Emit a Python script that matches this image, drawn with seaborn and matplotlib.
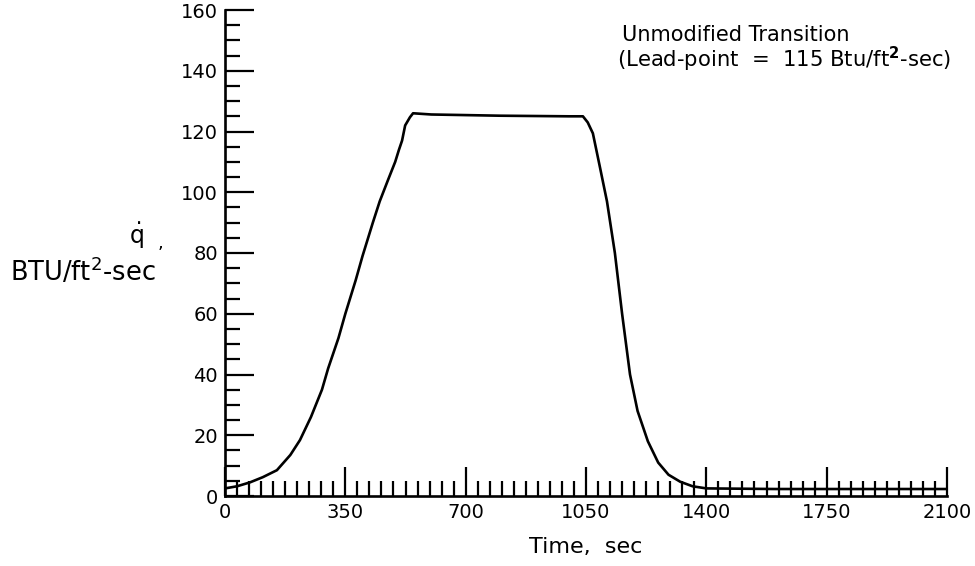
import matplotlib
matplotlib.use("Agg")
import matplotlib.pyplot as plt
from matplotlib.ticker import MultipleLocator
import seaborn as sns
import pandas as pd

# Data
time_sec = [0, 35, 73, 110, 151, 190, 218, 250, 282, 300, 330, 350, 380, 400, 430,
            450, 474, 495, 506, 515, 524, 538, 547, 600, 700, 800, 900, 1000, 1041,
            1055, 1070, 1091, 1111, 1134, 1155, 1178, 1200, 1230, 1260, 1290, 1324,
            1360, 1400, 1600, 1800, 2000, 2100]
heat_rate = [2.5, 3.2, 4.5, 6.2, 8.5, 13.5, 18.4, 26, 35, 42, 52, 60, 71, 79, 90,
             97, 104, 110, 114, 117, 122, 124.7, 126, 125.6, 125.4, 125.2, 125.1, 125.0, 125.0,
             123, 119.4, 108, 97, 80, 60, 40, 28, 18, 11, 7, 4.7,
             3.2, 2.5, 2.3, 2.3, 2.3, 2.3]
x_ticks = [0, 350, 700, 1050, 1400, 1750, 2100]
y_ticks = [0, 20, 40, 60, 80, 100, 120, 140, 160]

sns.set_theme(style="white")
plt.rcParams["font.family"] = ["DejaVu Sans"]
plt.rcParams["mathtext.fontset"] = "dejavusans"
plt.rcParams["text.color"] = "black"
plt.rcParams["axes.labelcolor"] = "black"

df = pd.DataFrame({"t": time_sec, "q": heat_rate})

fig = plt.figure(figsize=(9.75, 5.66), dpi=100)
ax = fig.add_axes([225 / 975, 1 - 496 / 566, (947 - 225) / 975, (496 - 10) / 566])
sns.lineplot(data=df, x="t", y="q", ax=ax, color="black", linewidth=1.9)

ax.set_xlim(0, 2100)
ax.set_ylim(0, 160)
ax.set_xticks(x_ticks)
ax.set_yticks(y_ticks)
ax.xaxis.set_minor_locator(MultipleLocator(35))
ax.yaxis.set_minor_locator(MultipleLocator(5))
for s in ["top", "right"]:
    ax.spines[s].set_visible(False)
for s in ["left", "bottom"]:
    ax.spines[s].set_linewidth(1.9)
    ax.spines[s].set_color("black")
ax.tick_params(axis="both", which="both", bottom=True, left=True, top=False, right=False)
ax.tick_params(axis="both", which="major", direction="in", length=21, width=1.6,
               color="black", labelsize=14, labelcolor="black")
ax.tick_params(axis="both", which="minor", direction="in", length=10.5, width=1.6,
               color="black")
ax.tick_params(axis="x", which="both", pad=5)
ax.tick_params(axis="y", which="both", pad=5)
ax.set_xlabel("Time,  sec", fontsize=16, labelpad=11, color="black")
ax.set_ylabel("")
ax.grid(False)

fig.text(136 / 975, 1 - 236 / 566, r"$\dot{\mathrm{q}}$", fontsize=17, ha="center", va="center")
fig.text(160 / 975, 1 - 243 / 566, ",", fontsize=13, ha="center", va="center")
fig.text(10 / 975, 1 - 272 / 566, r"BTU/ft$^2$-sec", fontsize=18.5, ha="left", va="center")

fig.text(622 / 975, 1 - 35 / 566, "Unmodified Transition", fontsize=15, ha="left", va="center")
fig.text(617 / 975, 1 - 59 / 566, r"(Lead-point  =  115 Btu/ft$^{\mathbf{2}}$-sec)", fontsize=15.2,
         ha="left", va="center")

fig.savefig("out.png", dpi=100)
